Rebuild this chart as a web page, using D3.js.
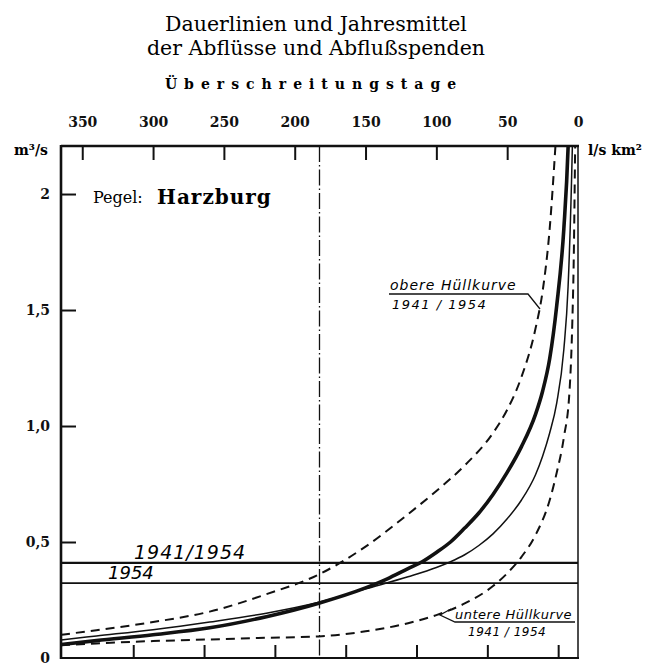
<!DOCTYPE html>
<html>
<head>
<meta charset="utf-8">
<script src="https://cdn.jsdelivr.net/npm/d3@7"></script>
<style>
  body { margin: 0; background: #fff; }
  svg { display: block; }
</style>
</head>
<body>
<script>
// exceedance days and discharge (m3/s)
var thickDays = [6, 7, 10, 15, 20, 25, 30, 40, 50, 60, 70, 80, 90, 100, 110, 120, 135, 150, 183, 220, 260, 300, 340, 365];
var thickQ    = [2.4, 2.2, 1.85, 1.52, 1.29, 1.15, 1.05, 0.91, 0.8, 0.705, 0.625, 0.56, 0.5, 0.455, 0.415, 0.385, 0.34, 0.302, 0.236, 0.178, 0.13, 0.1, 0.075, 0.058];

var thinDays = [3, 4, 7, 10, 15, 20, 25, 30, 40, 50, 60, 70, 80, 90, 100, 120, 150, 183, 220, 260, 300, 340, 365];
var thinQ    = [2.5, 2.2, 1.6, 1.33, 1.1, 0.97, 0.87, 0.79, 0.68, 0.6, 0.535, 0.485, 0.445, 0.415, 0.39, 0.35, 0.298, 0.24, 0.193, 0.155, 0.122, 0.095, 0.078];

var upperDays = [14, 16, 20, 25, 30, 40, 50, 60, 80, 100, 120, 150, 183, 220, 260, 300, 340, 365];
var upperQ    = [2.4, 2.2, 1.85, 1.58, 1.42, 1.21, 1.07, 0.97, 0.83, 0.72, 0.62, 0.48, 0.36, 0.275, 0.2, 0.155, 0.12, 0.1];

var lowerDays = [1, 2, 3, 4, 6, 10, 15, 20, 30, 40, 50, 60, 80, 100, 120, 150, 183, 220, 260, 300, 340, 365];
var lowerQ    = [2.6, 2.2, 1.72, 1.45, 1.15, 0.95, 0.8, 0.68, 0.53, 0.435, 0.365, 0.31, 0.235, 0.185, 0.15, 0.115, 0.093, 0.087, 0.08, 0.073, 0.063, 0.055];

var meanYears = ["1941/1954", "1954"];
var meanQ = [0.41, 0.323];
var medianDay = 182.5;

var topTicks = [350, 300, 250, 200, 150, 100, 50, 0];
var bottomTicks = [14, 64, 114, 164, 214, 264, 314];
var leftTicks = [0, 0.5, 1, 1.5, 2];
var leftLabels = ["0", "0,5", "1,0", "1,5", "2"];

var W = 659, H = 670;
var L = 61, R = 578, T = 146, B = 658;

var svg = d3.select("body").append("svg")
  .attr("width", W)
  .attr("height", H);

var x = d3.scaleLinear().domain([365, 0]).range([L, R]);
var y = d3.scaleLinear().domain([0, 2.207]).range([B, T]);

var serif = "'DejaVu Serif', serif";
var hand = "'DejaVu Sans', sans-serif";

// titles
svg.append("text")
  .attr("x", 316).attr("y", 31)
  .attr("text-anchor", "middle")
  .style("font-family", serif).style("font-size", "20.5px")
  .text("Dauerlinien und Jahresmittel");
svg.append("text")
  .attr("x", 316).attr("y", 55)
  .attr("text-anchor", "middle")
  .style("font-family", serif).style("font-size", "20.5px")
  .text("der Abflüsse und Abflußspenden");
svg.append("text")
  .attr("x", 314).attr("y", 89)
  .attr("text-anchor", "middle")
  .style("font-family", serif).style("font-size", "14px").style("font-weight", "bold")
  .style("letter-spacing", "7px")
  .text("Überschreitungstage");

// clip for the curves
svg.append("clipPath").attr("id", "plot")
  .append("rect").attr("x", L).attr("y", T).attr("width", R - L).attr("height", B - T);

// top axis
var topAxis = svg.append("g")
  .attr("transform", "translate(0," + T + ")")
  .call(d3.axisTop(x).tickValues(topTicks).tickSize(-14).tickPadding(19));
// bottom ticks
var botAxis = svg.append("g")
  .attr("transform", "translate(0," + B + ")")
  .call(d3.axisBottom(x).tickValues(bottomTicks).tickSize(-13).tickFormat(""));
// left axis
var leftAxis = svg.append("g")
  .attr("transform", "translate(" + L + ",0)")
  .call(d3.axisLeft(y).tickValues(leftTicks).tickSize(-15).tickPadding(11)
    .tickFormat(function(d, i) { return leftLabels[i]; }));

[topAxis, botAxis, leftAxis].forEach(function(g) {
  g.select(".domain").remove();
  g.selectAll(".tick line").attr("stroke", "#111").attr("stroke-width", 2);
  g.selectAll(".tick text")
    .attr("fill", "#111")
    .style("font-family", serif).style("font-size", "14px").style("font-weight", "bold");
});
topAxis.selectAll(".tick").filter(function(d) { return d === 0; }).select("line").remove();
leftAxis.selectAll(".tick").filter(function(d) { return d === 0; }).select("line").remove();

// frame
svg.append("line").attr("x1", L).attr("x2", L).attr("y1", T - 1).attr("y2", B + 1)
  .attr("stroke", "#111").attr("stroke-width", 2.6);
svg.append("line").attr("x1", L).attr("x2", R + 1).attr("y1", T).attr("y2", T)
  .attr("stroke", "#111").attr("stroke-width", 2.6);
svg.append("line").attr("x1", L).attr("x2", R + 1).attr("y1", B).attr("y2", B)
  .attr("stroke", "#111").attr("stroke-width", 2);
svg.append("line").attr("x1", R).attr("x2", R).attr("y1", T).attr("y2", B)
  .attr("stroke", "#111").attr("stroke-width", 1.5);

// units
svg.append("text").attr("x", 14).attr("y", 155)
  .style("font-family", serif).style("font-size", "14px").style("font-weight", "bold")
  .text("m³/s");
svg.append("text").attr("x", 588).attr("y", 155)
  .style("font-family", serif).style("font-size", "14px").style("font-weight", "bold")
  .text("l/s km²");

// gauge name
svg.append("text").attr("x", 93).attr("y", 203)
  .style("font-family", serif).style("font-size", "16px")
  .text("Pegel:");
svg.append("text").attr("x", 157).attr("y", 204)
  .style("font-family", serif).style("font-weight", "900").style("font-size", "20px")
  .style("letter-spacing", "1px")
  .text("Harzburg");

// median day (dash-dot)
svg.append("line")
  .attr("x1", x(medianDay)).attr("x2", x(medianDay))
  .attr("y1", T).attr("y2", B)
  .attr("stroke", "#111").attr("stroke-width", 1.3)
  .attr("stroke-dasharray", "16,3,1.5,3");

// annual means
svg.selectAll(".mean").data(meanQ).enter().append("line")
  .attr("class", "mean")
  .attr("x1", L).attr("x2", R)
  .attr("y1", function(d) { return y(d); }).attr("y2", function(d) { return y(d); })
  .attr("stroke", "#111")
  .attr("stroke-width", function(d, i) { return i === 0 ? 2.4 : 1.7; });

svg.append("text").attr("x", 134).attr("y", y(meanQ[0]) - 4)
  .style("font-family", hand).style("font-style", "italic").style("font-size", "19px")
  .style("letter-spacing", "1px")
  .text(meanYears[0]);
svg.append("text").attr("x", 108).attr("y", y(meanQ[1]) - 4)
  .style("font-family", hand).style("font-style", "italic").style("font-size", "18px")
  .text(meanYears[1]);

// duration curves
var line = d3.line()
  .x(function(d) { return x(d[0]); })
  .y(function(d) { return y(d[1]); })
  .curve(d3.curveMonotoneX);

var curves = [
  { days: upperDays, q: upperQ, w: 2, dash: "9,6" },
  { days: lowerDays, q: lowerQ, w: 2, dash: "9,6" },
  { days: thinDays, q: thinQ, w: 1.5, dash: null },
  { days: thickDays, q: thickQ, w: 3.6, dash: null }
];

var cg = svg.append("g").attr("clip-path", "url(#plot)");
curves.forEach(function(c) {
  // sort by screen x (largest day first)
  var pts = c.days.map(function(d, i) { return [d, c.q[i]]; })
    .sort(function(a, b) { return b[0] - a[0]; });
  cg.append("path")
    .datum(pts)
    .attr("fill", "none")
    .attr("stroke", "#111")
    .attr("stroke-width", c.w)
    .attr("stroke-dasharray", c.dash)
    .attr("d", line);
});

// envelope labels
svg.append("text").attr("x", 390).attr("y", 290)
  .style("font-family", hand).style("font-style", "italic").style("font-size", "14px")
  .style("letter-spacing", "1px")
  .text("obere Hüllkurve");
svg.append("text").attr("x", 392).attr("y", 309)
  .style("font-family", hand).style("font-style", "italic").style("font-size", "13px")
  .style("letter-spacing", "1.5px")
  .text("1941 / 1954");
svg.append("polyline")
  .attr("points", "389,294 528,294 540,309")
  .attr("fill", "none").attr("stroke", "#111").attr("stroke-width", 1.3);

svg.append("text").attr("x", 455).attr("y", 619)
  .style("font-family", hand).style("font-style", "italic").style("font-size", "13px")
  .style("letter-spacing", "0.5px")
  .text("untere Hüllkurve");
svg.append("text").attr("x", 468).attr("y", 636)
  .style("font-family", hand).style("font-style", "italic").style("font-size", "12px")
  .style("letter-spacing", "0.5px")
  .text("1941 / 1954");
svg.append("polyline")
  .attr("points", "451,609 440,615 455,622 575,622")
  .attr("fill", "none").attr("stroke", "#111").attr("stroke-width", 1.3);
</script>
</body>
</html>
